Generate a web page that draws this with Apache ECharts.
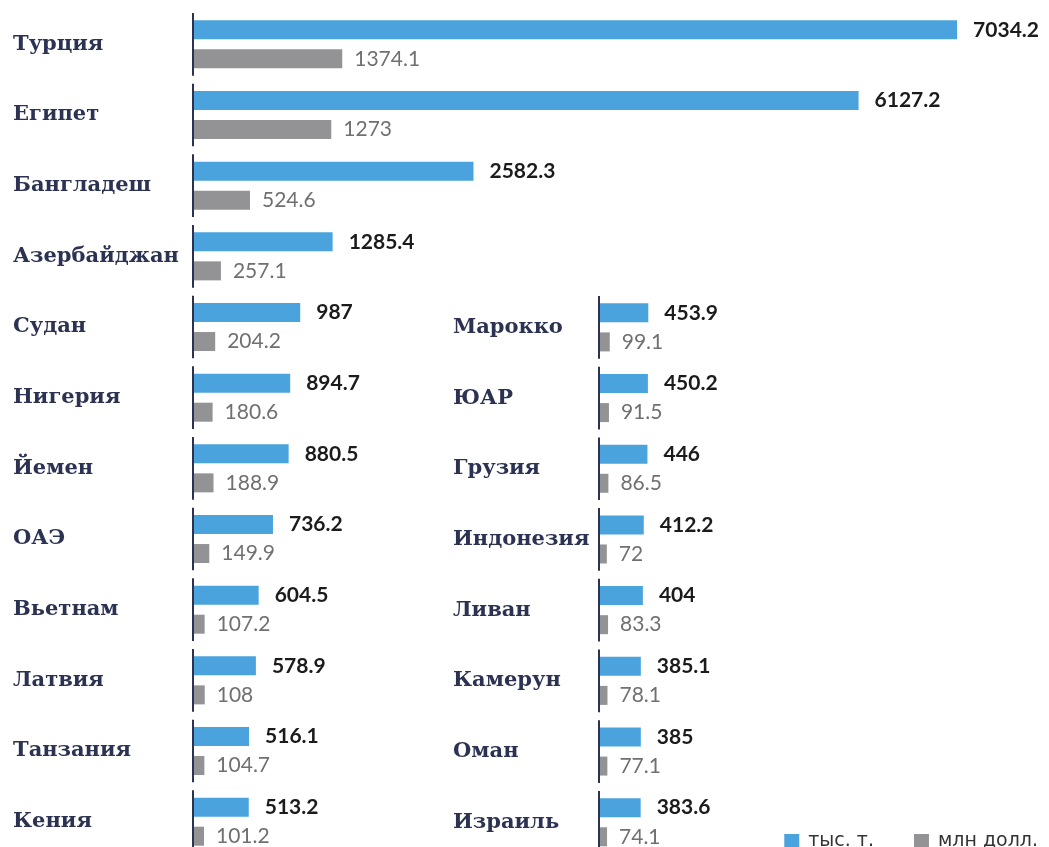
<!DOCTYPE html>
<html>
<head>
<meta charset="utf-8">
<script src="https://cdn.jsdelivr.net/npm/echarts@6/dist/echarts.min.js"></script>
<style>
  html, body { margin: 0; padding: 0; background: #fff; }
  #main { width: 1049px; height: 847px; }
</style>
</head>
<body>
<div id="main"></div>
<script>
// левая колонка
var leftCountries = ['Турция', 'Египет', 'Бангладеш', 'Азербайджан', 'Судан', 'Нигерия', 'Йемен', 'ОАЭ', 'Вьетнам', 'Латвия', 'Танзания', 'Кения'];
var leftTons = [7034.2, 6127.2, 2582.3, 1285.4, 987, 894.7, 880.5, 736.2, 604.5, 578.9, 516.1, 513.2];
var leftUsd = [1374.1, 1273, 524.6, 257.1, 204.2, 180.6, 188.9, 149.9, 107.2, 108, 104.7, 101.2];

// правая колонка
var rightCountries = ['Марокко', 'ЮАР', 'Грузия', 'Индонезия', 'Ливан', 'Камерун', 'Оман', 'Израиль'];
var rightTons = [453.9, 450.2, 446, 412.2, 404, 385.1, 385, 383.6];
var rightUsd = [99.1, 91.5, 86.5, 72, 83.3, 78.1, 77.1, 74.1];

var seriesNames = ['тыс. т.', 'млн долл.'];

var BLUE = '#4ba3de';
var GREY = '#939396';
var NAVY = '#2b3252';

var chart = echarts.init(document.getElementById('main'));

// вертикальная черта у каждой категории
function axisSegments(xi, yi, n) {
  var d = [];
  for (var i = 0; i < n; i++) d.push([0, i]);
  return {
    type: 'custom',
    xAxisIndex: xi,
    yAxisIndex: yi,
    silent: true,
    z: 5,
    data: d,
    encode: { x: 0, y: 1 },
    renderItem: function (params, api) {
      var p = api.coord([0, api.value(1)]);
      var h = api.size([0, 1])[1];
      return {
        type: 'line',
        shape: { x1: p[0], y1: p[1] - h / 2 + 4, x2: p[0], y2: p[1] + h / 2 - 4 },
        style: { stroke: NAVY, lineWidth: 2 }
      };
    }
  };
}

function yAxisFor(cats, gridIndex, margin) {
  return {
    type: 'category',
    gridIndex: gridIndex,
    data: cats,
    inverse: true,
    axisLine: { show: false },
    axisTick: { show: false },
    axisLabel: {
      align: 'left',
      margin: margin,
      fontFamily: 'DejaVu Serif',
      fontWeight: 'bold',
      fontSize: 21,
      color: NAVY
    }
  };
}

function barPair(xi, yi, tons, usd) {
  return [
    {
      name: seriesNames[0],
      type: 'bar',
      xAxisIndex: xi,
      yAxisIndex: yi,
      data: tons,
      barWidth: 19,
      barGap: '53%',
      itemStyle: { color: BLUE },
      label: {
        show: true,
        position: 'right',
        distance: 16,
        fontFamily: 'Lato',
        fontWeight: 'bold',
        fontSize: 21,
        color: '#1b1b1b'
      }
    },
    {
      name: seriesNames[1],
      type: 'bar',
      xAxisIndex: xi,
      yAxisIndex: yi,
      data: usd,
      barWidth: 19,
      itemStyle: { color: GREY },
      label: {
        show: true,
        position: 'right',
        distance: 12,
        fontFamily: 'Lato',
        fontSize: 21,
        color: '#707070'
      }
    }
  ];
}

var series = [].concat(
  barPair(0, 0, leftTons, leftUsd),
  barPair(1, 1, rightTons, rightUsd),
  [axisSegments(0, 0, leftCountries.length), axisSegments(1, 1, rightCountries.length)]
);

chart.setOption({
  backgroundColor: '#fff',
  animation: false,
  grid: [
    { left: 193, top: 9, width: 869, height: 848, outerBoundsMode: 'none' },
    { left: 599, top: 292, width: 869, height: 565.6, outerBoundsMode: 'none' }
  ],
  xAxis: [
    { type: 'value', gridIndex: 0, min: 0, max: 8000, show: false },
    { type: 'value', gridIndex: 1, min: 0, max: 8000, show: false }
  ],
  yAxis: [
    yAxisFor(leftCountries, 0, 180),
    yAxisFor(rightCountries, 1, 146)
  ],
  legend: {
    data: seriesNames,
    right: 6,
    top: 827,
    icon: 'rect',
    itemWidth: 15,
    itemHeight: 15,
    itemGap: 40,
    textStyle: {
      fontFamily: 'DejaVu Sans',
      fontSize: 19,
      color: '#333',
      padding: [0, 0, 0, 4]
    }
  },
  series: series
});
</script>
</body>
</html>
